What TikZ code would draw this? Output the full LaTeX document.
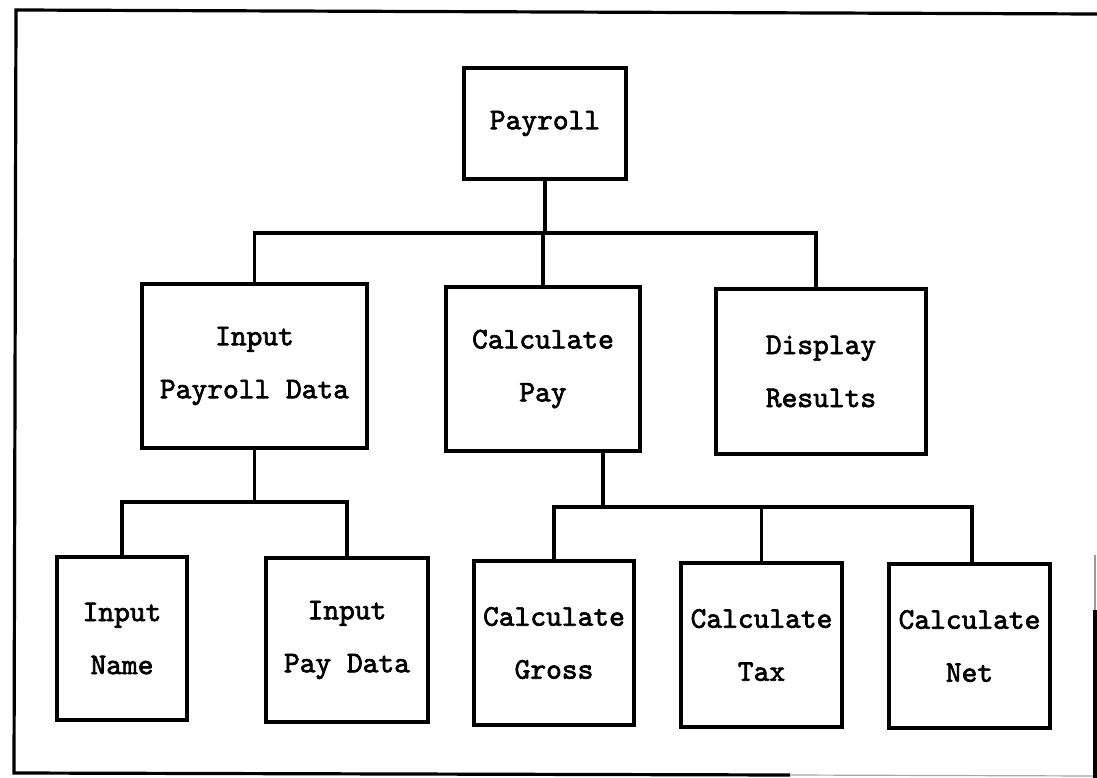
\documentclass[tikz,border=0pt]{standalone}
\usepackage{fontspec}
\newfontfamily\boxfont{lmmono10-regular.otf}[FakeBold=2.2]
\begin{document}
\begin{tikzpicture}[x=1pt,y=-1pt,
  box/.style={draw,line width=3.2pt,inner sep=0pt,align=center,
    font=\boxfont\fontsize{30}{53}\selectfont},
  conn/.style={line width=3.2pt},
  frame/.style={line width=3.2pt}]
\useasboundingbox (0,0) rectangle (1097,778);

% outer frame of the chart
\draw[frame] (1097,14) -- (16,10) -- (14,773) -- (790,775);
\draw[line width=1.2pt,black!35] (790,775) -- (1095,776);
\draw[line width=1.2pt,black!40] (1095,555) -- (1095,610);
\draw[frame] (1095,610) -- (1095,778);

% top level
\node[box,minimum width=162,minimum height=111] (pay) at (545,123.5) {Payroll};

% second level
\node[box,minimum width=225,minimum height=164] (ipd) at (254.5,366) {Input\\Payroll Data};
\node[box,minimum width=194,minimum height=164] (cp)  at (543,369)   {Calculate\\Pay};
\node[box,minimum width=210,minimum height=165] (dr)  at (821,371.5) {Display\\Results};

% third level
\node[box,minimum width=130,minimum height=163] (inm) at (122,638.5) {Input\\Name};
\node[box,minimum width=162,minimum height=164] (ipy) at (347,640)   {Input\\Pay Data};
\node[box,minimum width=160,minimum height=164] (cg)  at (554,643)   {Calculate\\Gross};
\node[box,minimum width=161,minimum height=164] (ct)  at (761.5,645) {Calculate\\Tax};
\node[box,minimum width=161,minimum height=164] (cn)  at (969.5,646) {Calculate\\Net};

% bus points of the three branchings
\coordinate (busA) at (545,233);
\coordinate (busB) at (254.5,502);
\coordinate (busC) at (603,507);

% Payroll -> second level
\draw[conn] (pay.south) -- (busA);
\draw[conn] (ipd.north) |- (busA) -| ([xshift=-5]dr.north);
\draw[conn] (cp.north) -- (cp.north |- busA);

% Input Payroll Data -> inputs
\draw[conn] (ipd.south) -- (busB);
\draw[conn] (inm.north) |- (busB) -| (ipy.north);

% Calculate Pay -> calculations
\draw[conn] ([xshift=60]cp.south) -- (busC);
\draw[conn] (cg.north) |- (busC) -| ([xshift=2.5]cn.north);
\draw[conn] (ct.north) -- (ct.north |- busC);
\end{tikzpicture}
\end{document}
